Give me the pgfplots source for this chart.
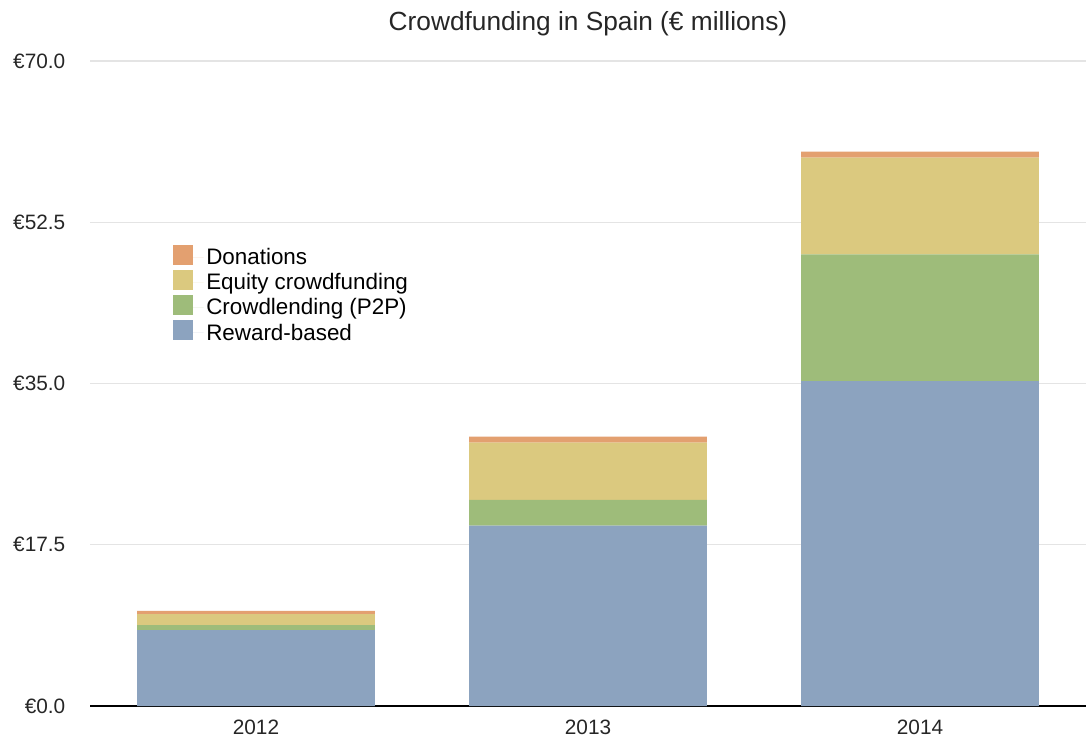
\documentclass[border=0pt]{standalone}
\usepackage{pgfplots}
\pgfplotsset{compat=1.18}
\usepackage{fontspec}
\setmainfont{Liberation Sans}
\definecolor{cBlue}{RGB}{140,163,191}
\definecolor{cGreen}{RGB}{158,188,122}
\definecolor{cYellow}{RGB}{219,201,127}
\definecolor{cOrange}{RGB}{227,160,112}
\definecolor{cGrid}{RGB}{228,228,228}
\begin{document}
\begin{tikzpicture}
\begin{axis}[
  scale only axis,
  width=747pt, height=483.75pt,
  ybar stacked,
  bar width=0.716,
  xmin=-0.5, xmax=2.5,
  ymin=0, ymax=70,
  xtick=data,
  xticklabels={2012,2013,2014},
  ytick={0,17.5,35,52.5,70},
  yticklabels={€0.0,€17.5,€35.0,€52.5,€70.0},
  major tick length=0pt,
  ymajorgrids,
  grid style={cGrid, line width=0.8pt},
  axis x line*=bottom,
  axis y line*=left,
  y axis line style={draw=none},
  x axis line style={black, line width=0.9pt, -},
  tick label style={font=\fontsize{15.6}{18}\selectfont, text=black!85},
  yticklabel style={xshift=-15pt},
  xticklabel style={yshift=-7pt},
  title={Crowdfunding in Spain (€ millions)},
  title style={font=\fontsize{19.7}{22}\selectfont, yshift=9pt, text=black!85},
  legend style={at={(rel axis cs:0.079,0.72)}, anchor=north west, draw=none, fill=none,
    font=\fontsize{16.8}{19}\selectfont, row sep=0.6pt, cells={anchor=west}},
  legend image code/.code={\fill[#1] (0pt,-5.5pt) rectangle (15pt,9.5pt);
    \path (0pt,0pt) -- (23pt,0pt);},
  reverse legend,
  clip=false,
]
\addplot[fill=cBlue, draw=none] coordinates {(0,8.25) (1,19.57) (2,35.27)};
\addplot[fill=cGreen, draw=none] coordinates {(0,0.54) (1,2.79) (2,13.75)};
\addplot[fill=cYellow, draw=none] coordinates {(0,1.19) (1,6.22) (2,10.49)};
\addplot[fill=cOrange, draw=none] coordinates {(0,0.36) (1,0.65) (2,0.65)};
\legend{Reward-based,Crowdlending (P2P),Equity crowdfunding,Donations}
\coordinate (bl) at (rel axis cs:-0.09036,-0.0527);
\coordinate (tr) at (rel axis cs:1,1.0946);
\end{axis}
\pgfresetboundingbox
\path (bl) rectangle (tr);
\end{tikzpicture}
\end{document}
